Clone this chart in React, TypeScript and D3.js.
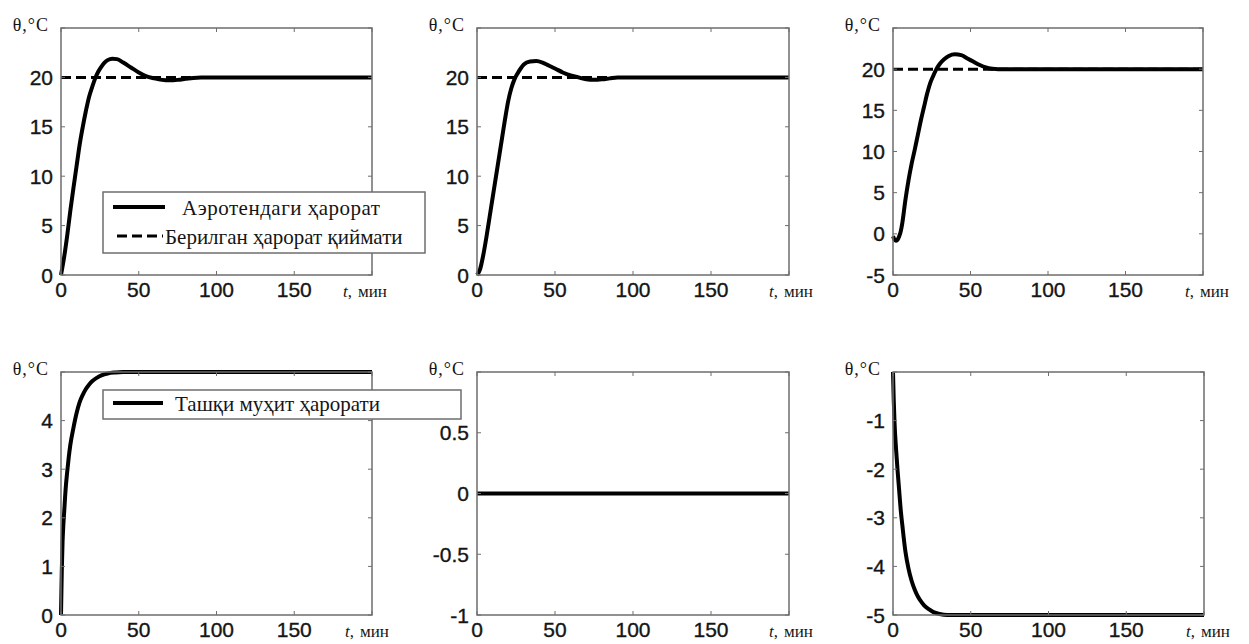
import * as d3 from "d3";

// Time axis (minutes) and ticks shared by all panels
const xTicks = [0, 50, 100, 150, 200];

// Panel 1: aerotank temperature, variant 1
const timeA = [0, 2, 4, 6, 8, 10, 12, 14, 16, 18, 20, 22, 24, 26, 28, 30, 33, 36, 40, 45, 50, 55, 60, 65, 70, 75, 80, 85, 90, 100, 200];
const tempA = [0, 1.8, 4, 6.5, 8.8, 11, 13.2, 15, 16.6, 18, 19, 19.9, 20.6, 21.1, 21.5, 21.75, 21.9, 21.85, 21.5, 21, 20.5, 20.1, 19.9, 19.75, 19.7, 19.75, 19.85, 19.95, 20, 20, 20];

// Panel 2: aerotank temperature, variant 2
const timeB = [0, 2, 4, 6, 8, 10, 12, 14, 16, 18, 20, 22, 24, 26, 28, 30, 34, 38, 42, 46, 50, 55, 60, 65, 70, 75, 80, 85, 90, 100, 200];
const tempB = [0, 0.6, 2, 3.8, 5.8, 7.8, 9.8, 11.8, 13.8, 15.8, 17.6, 18.9, 19.8, 20.4, 20.9, 21.3, 21.6, 21.65, 21.5, 21.2, 20.9, 20.5, 20.2, 20, 19.8, 19.75, 19.8, 19.9, 20, 20, 20];

// Panel 3: aerotank temperature, variant 3
const timeC = [0, 1, 2, 3, 4, 5, 6, 8, 10, 12, 14, 16, 18, 20, 22, 24, 26, 28, 30, 33, 36, 40, 44, 48, 52, 56, 60, 64, 68, 75, 90, 200];
const tempC = [-0.3, -0.7, -0.85, -0.7, -0.3, 0.3, 1.3, 4.1, 6.5, 8.5, 10.2, 12, 13.8, 15.4, 17, 18.3, 19.2, 20, 20.6, 21.2, 21.6, 21.8, 21.7, 21.3, 20.9, 20.5, 20.2, 20.05, 20, 20, 20, 20];

// Set point
const setTime = [0, 200];
const setTemp = [20, 20];

// Panel 4: ambient temperature (+5)
const timeD = [0, 0.5, 1, 1.5, 2, 3, 4, 5, 6, 8, 10, 12, 14, 16, 18, 20, 23, 26, 30, 35, 40, 50, 200];
const tempD = [0, 0.9, 1.5, 1.85, 2.1, 2.6, 2.95, 3.25, 3.5, 3.85, 4.15, 4.38, 4.53, 4.65, 4.74, 4.81, 4.88, 4.93, 4.97, 4.99, 5, 5, 5];

// Panel 5: ambient temperature (0)
const timeE = [0, 200];
const tempE = [0, 0];

// Panel 6: ambient temperature (-5)
const timeF = [0, 0.5, 1, 2, 3, 4, 5, 6, 8, 10, 12, 14, 16, 18, 20, 23, 26, 30, 35, 40, 200];
const tempF = [0, -0.6, -1.05, -1.6, -2.05, -2.45, -2.85, -3.15, -3.7, -4.05, -4.3, -4.48, -4.62, -4.72, -4.8, -4.88, -4.94, -4.98, -5, -5, -5];

// y ticks per panel (top tick carries no label)
const yTicksA = [0, 5, 10, 15, 20, 25];
const yTicksC = [-5, 0, 5, 10, 15, 20, 25];
const yTicksD = [0, 1, 2, 3, 4, 5];
const yTicksE = [-1, -0.5, 0, 0.5, 1];
const yTicksF = [-5, -4, -3, -2, -1, 0];

const legendTop = ["Аэротендаги ҳарорат", "Берилган ҳарорат қиймати"];
const legendBottom = ["Ташқи муҳит ҳарорати"];

type Series = { t: number[]; v: number[]; dashed?: boolean };

type PanelProps = {
  left: number;
  right: number;
  top: number;
  bottom: number;
  yTicks: number[];
  series: Series[];
  unitDx: number;
};

const axisColor = "#6e6e6e";
const textColor = "#151515";
const tickFont = "'Liberation Sans', Arial, sans-serif";
const serifFont = "'Liberation Serif', 'Times New Roman', serif";

const Panel = ({ left, right, top, bottom, yTicks, series, unitDx }: PanelProps) => {
  const x = d3.scaleLinear().domain([0, 200]).range([left, right]);
  const y = d3
    .scaleLinear()
    .domain([yTicks[0], yTicks[yTicks.length - 1]])
    .range([bottom, top]);

  const tickLen = 4;

  return (
    <g>
      {/* data */}
      {series.map((s, i) => {
        const gen = d3
          .line<number>()
          .x((_, k) => x(s.t[k]))
          .y((d) => y(d))
          .curve(d3.curveMonotoneX);
        return (
          <path
            key={i}
            d={gen(s.v) || ""}
            fill="none"
            stroke="#000"
            strokeWidth={s.dashed ? 3 : 4}
            strokeDasharray={s.dashed ? "10,5" : undefined}
            strokeLinejoin="round"
          />
        );
      })}

      {/* axes box */}
      <rect
        x={left}
        y={top}
        width={right - left}
        height={bottom - top}
        fill="none"
        stroke={axisColor}
        strokeWidth={1.5}
      />

      {/* x ticks */}
      {xTicks.map((t) => (
        <g key={"x" + t}>
          <line x1={x(t)} x2={x(t)} y1={bottom} y2={bottom - tickLen} stroke={axisColor} />
          <line x1={x(t)} x2={x(t)} y1={top} y2={top + tickLen} stroke={axisColor} />
          {t < 200 && (
            <text
              x={x(t)}
              y={bottom + 22}
              textAnchor="middle"
              fontFamily={tickFont}
              fontSize={21}
              fill={textColor}
              stroke={textColor}
              strokeWidth={0.35}
            >
              {t}
            </text>
          )}
        </g>
      ))}

      {/* y ticks */}
      {yTicks.map((v, i) => (
        <g key={"y" + v}>
          <line x1={left} x2={left + tickLen} y1={y(v)} y2={y(v)} stroke={axisColor} />
          <line x1={right} x2={right - tickLen} y1={y(v)} y2={y(v)} stroke={axisColor} />
          {i < yTicks.length - 1 && (
            <text
              x={left - 8}
              y={y(v)}
              dy="0.36em"
              textAnchor="end"
              fontFamily={tickFont}
              fontSize={21}
              fill={textColor}
              stroke={textColor}
              strokeWidth={0.35}
            >
              {String(v)}
            </text>
          )}
        </g>
      ))}

      {/* axis names */}
      <text
        x={left - 12}
        y={top + 3}
        textAnchor="end"
        fontFamily={serifFont}
        fontSize={18}
        letterSpacing={1}
        fill={textColor}
      >
        θ,°C
      </text>
      <text x={right + unitDx} y={bottom + 22} fontFamily={serifFont} fontSize={17} fill={textColor}>
        <tspan fontStyle="italic">t</tspan>
        <tspan>,</tspan>
        <tspan dx={6}>мин</tspan>
      </text>
    </g>
  );
};

const App = () => {
  const W = 1249;
  const H = 644;

  return (
    <svg
      width={W}
      height={H}
      style={{ position: "absolute", left: 0, top: 0, background: "#fff" }}
    >
      <rect width={W} height={H} fill="#fff" />

      <Panel
        left={61}
        right={372}
        top={28}
        bottom={275}
        yTicks={yTicksA}
        unitDx={-29}
        series={[
          { t: setTime, v: setTemp, dashed: true },
          { t: timeA, v: tempA },
        ]}
      />
      <Panel
        left={477}
        right={789}
        top={28}
        bottom={275}
        yTicks={yTicksA}
        unitDx={-20}
        series={[
          { t: setTime, v: setTemp, dashed: true },
          { t: timeB, v: tempB },
        ]}
      />
      <Panel
        left={893}
        right={1203}
        top={28}
        bottom={275}
        yTicks={yTicksC}
        unitDx={-18}
        series={[
          { t: setTime, v: setTemp, dashed: true },
          { t: timeC, v: tempC },
        ]}
      />
      <Panel left={61} right={372} top={372} bottom={615} yTicks={yTicksD} unitDx={-27} series={[{ t: timeD, v: tempD }]} />
      <Panel left={477} right={789} top={372} bottom={615} yTicks={yTicksE} unitDx={-20} series={[{ t: timeE, v: tempE }]} />
      <Panel left={893} right={1204} top={372} bottom={615} yTicks={yTicksF} unitDx={-18} series={[{ t: timeF, v: tempF }]} />

      {/* legend, top-left panel */}
      <g>
        <rect x={103} y={192} width={322} height={61} fill="#fff" stroke={axisColor} strokeWidth={1.5} />
        <line x1={113} x2={165} y1={207} y2={207} stroke="#000" strokeWidth={4} />
        <text x={182} y={215} fontFamily={serifFont} fontSize={21} letterSpacing={0.5} fill={textColor}>
          {legendTop[0]}
        </text>
        <line x1={117} x2={163} y1={236} y2={236} stroke="#000" strokeWidth={3} strokeDasharray="10,5" />
        <text x={165} y={244} fontFamily={serifFont} fontSize={21} fill={textColor}>
          {legendTop[1]}
        </text>
      </g>

      {/* legend, bottom-left panel */}
      <g>
        <rect x={103} y={390} width={358} height={29} fill="#fff" stroke={axisColor} strokeWidth={1.5} />
        <line x1={113} x2={163} y1={403} y2={403} stroke="#000" strokeWidth={4} />
        <text x={175} y={411} fontFamily={serifFont} fontSize={21} fill={textColor}>
          {legendBottom[0]}
        </text>
      </g>
    </svg>
  );
};

export default App;
